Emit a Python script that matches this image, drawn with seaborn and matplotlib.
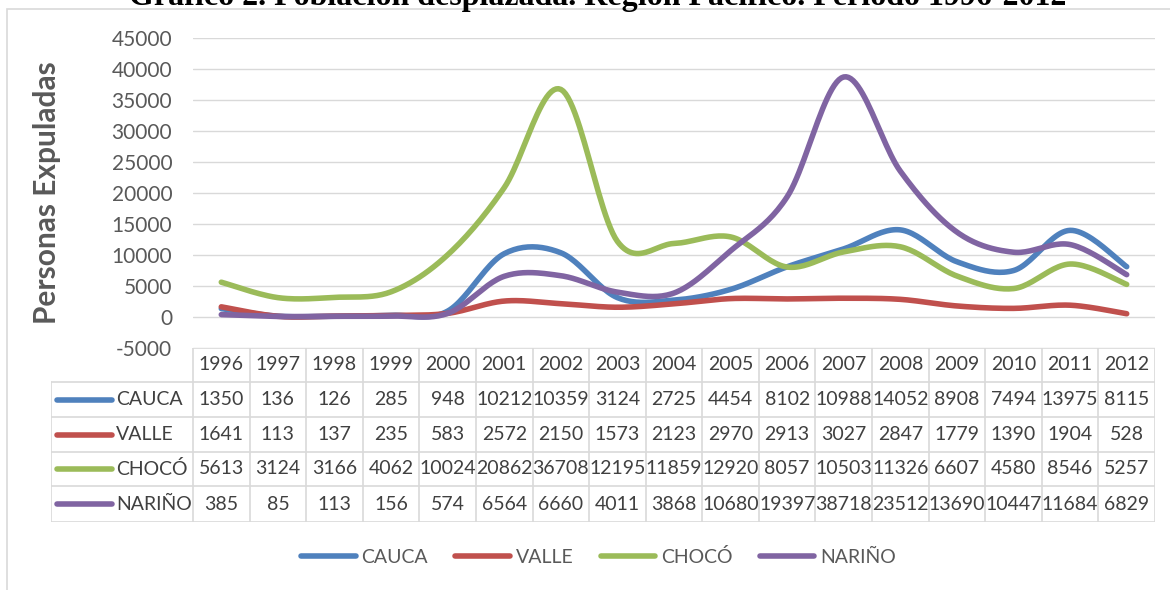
import numpy as np
import pandas as pd
import matplotlib
matplotlib.use('Agg')
import matplotlib.pyplot as plt
from matplotlib.lines import Line2D
from matplotlib.patches import Rectangle
import seaborn as sns

years = [str(y) for y in range(1996, 2013)]
cauca = [1350, 136, 126, 285, 948, 10212, 10359, 3124, 2725, 4454, 8102, 10988, 14052, 8908, 7494, 13975, 8115]
valle = [1641, 113, 137, 235, 583, 2572, 2150, 1573, 2123, 2970, 2913, 3027, 2847, 1779, 1390, 1904, 528]
choco = [5613, 3124, 3166, 4062, 10024, 20862, 36708, 12195, 11859, 12920, 8057, 10503, 11326, 6607, 4580, 8546, 5257]
narino = [385, 85, 113, 156, 574, 6564, 6660, 4011, 3868, 10680, 19397, 38718, 23512, 13690, 10447, 11684, 6829]
names = ['CAUCA', 'VALLE', 'CHOCÓ', 'NARIÑO']
colors = ['#4F81BD', '#C0504D', '#9BBB59', '#8064A2']
yticks = list(range(-5000, 45001, 5000))

title = 'Gráfico 2. Población desplazada. Región Pacífico. Periodo 1996-2012'
ylabel = 'Personas Expuladas'

sns.set_style('white')
plt.rcParams['font.family'] = ['Lato', 'DejaVu Sans']

W, H = 1170, 590
fig = plt.figure(figsize=(W / 100, H / 100), dpi=100)


def px(x0, y0, x1, y1):
    # pixel box -> figure fraction rect
    return [x0 / W, 1 - y1 / H, (x1 - x0) / W, (y1 - y0) / H]


# smoothed line like Excel's "smoothed line" option (Bezier through the points)
def smooth(vals, n=24):
    pts = np.column_stack([np.arange(len(vals), dtype=float), np.asarray(vals, float)])
    out = []
    for i in range(len(pts) - 1):
        p0 = pts[max(i - 1, 0)]
        p1 = pts[i]
        p2 = pts[i + 1]
        p3 = pts[min(i + 2, len(pts) - 1)]
        c1 = p1 + (p2 - p0) / 6
        c2 = p2 - (p3 - p1) / 6
        t = np.linspace(0, 1, n, endpoint=(i == len(pts) - 2))[:, None]
        out.append((1 - t) ** 3 * p1 + 3 * (1 - t) ** 2 * t * c1 + 3 * (1 - t) * t ** 2 * c2 + t ** 3 * p2)
    out = np.vstack(out)
    return out[:, 0], out[:, 1]


frames = []
for name, vals in zip(names, [cauca, valle, choco, narino]):
    sx, sy = smooth(vals)
    frames.append(pd.DataFrame({'x': sx, 'y': sy, 'serie': name}))
df = pd.concat(frames, ignore_index=True)

# main plot
left, right, top, bottom = 193, 1155, 38, 348
ax = fig.add_axes(px(left, top, right, bottom))
ax.set_xlim(-0.5, len(years) - 0.5)
ax.set_ylim(-5000, 45000)
ax.set_yticks(yticks)
ax.set_yticklabels([str(v) for v in yticks])
ax.set_xticks([])
ax.grid(axis='y', color='#D9D9D9', lw=1)
ax.set_axisbelow(True)
for s in ax.spines.values():
    s.set_visible(False)
ax.tick_params(axis='y', length=0, pad=15, labelsize=15, labelcolor='#595959')

sns.lineplot(data=df, x='x', y='y', hue='serie', palette=colors, sort=False,
             estimator=None, lw=4, legend=False, ax=ax, solid_capstyle='round')
ax.set_xlabel('')
ax.set_ylabel(ylabel, fontsize=21.5, fontweight='bold', color='#595959')
ax.yaxis.set_label_coords(-0.137, 0.5)

# data table below the plot
tab_left = 51
colw = (right - left) / len(years)
rows_y = [348, 382, 417, 452, 486, 522]
axt = fig.add_axes(px(tab_left, rows_y[0], right, rows_y[-1]))
axt.set_xlim(-0.5 - (left - tab_left) / colw, len(years) - 0.5)
axt.set_ylim(rows_y[-1], rows_y[0])
axt.axis('off')
lc = '#D9D9D9'
xl = -0.5 - (left - tab_left) / colw
# horizontal lines
axt.plot([-0.5, len(years) - 0.5], [rows_y[0]] * 2, color=lc, lw=1.2)
for yy in rows_y[1:]:
    axt.plot([xl, len(years) - 0.5], [yy] * 2, color=lc, lw=1.2)
# vertical lines
for i in range(len(years) + 1):
    axt.plot([i - 0.5] * 2, [rows_y[0], rows_y[-1]], color=lc, lw=1.2)
axt.plot([xl] * 2, [rows_y[1], rows_y[-1]], color=lc, lw=1.2)
tc = '#404040'
for i, y in enumerate(years):
    axt.text(i, (rows_y[0] + rows_y[1]) / 2, y, ha='center', va='center', fontsize=14, color=tc)
for r, (name, vals, c) in enumerate(zip(names, [cauca, valle, choco, narino], colors)):
    yc = (rows_y[r + 1] + rows_y[r + 2]) / 2
    for i, v in enumerate(vals):
        axt.text(i, yc, str(v), ha='center', va='center', fontsize=14, color=tc)
    x0 = xl + 6 / colw
    axt.plot([x0, x0 + 55 / colw], [yc, yc], color=c, lw=4, solid_capstyle='round')
    axt.text(x0 + 59 / colw, yc, name, ha='left', va='center', fontsize=14, color=tc)

# legend
handles = [Line2D([0], [0], color=c, lw=4, solid_capstyle='round') for c in colors]
fig.legend(handles, names, loc='center', bbox_to_anchor=(0.5115, 1 - 557 / H), ncol=4,
           frameon=False, fontsize=14, handlelength=2.8, handletextpad=0.3,
           columnspacing=1.4, labelcolor='#595959')

# chart frame and (partly cut) title
fig.patches.append(Rectangle((7 / W, -0.05), (W - 5) / W, 1 - 9 / H + 0.05,
                             transform=fig.transFigure, fill=False, ec='#D9D9D9', lw=1.2))
fig.text(0.511, 1 - 5 / H, title, ha='center', va='baseline', fontsize=23,
         fontweight='bold', family='Liberation Serif', color='black')

fig.savefig('out.png', dpi=100)
